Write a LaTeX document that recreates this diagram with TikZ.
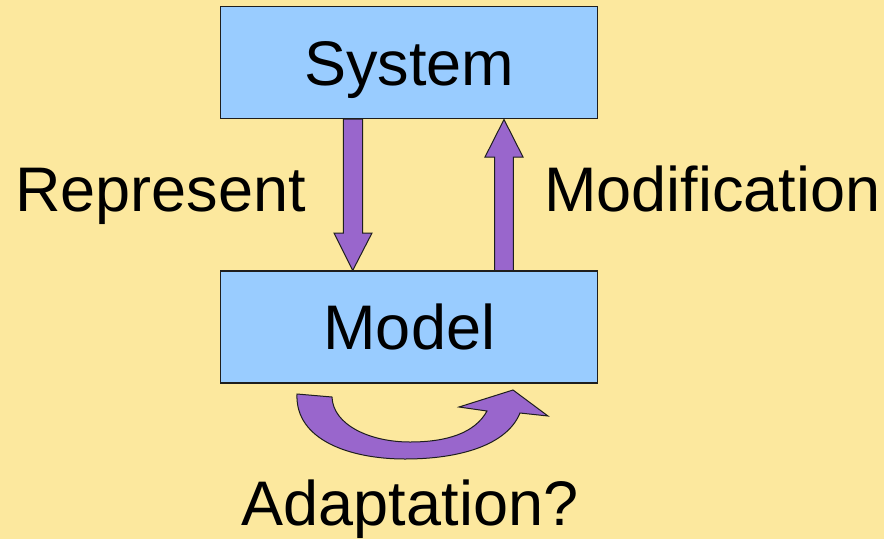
\documentclass[tikz,border=0pt]{standalone}
\usepackage{fontspec}
\setmainfont{Liberation Sans}
\definecolor{bgyellow}{RGB}{252,232,158}
\definecolor{boxblue}{RGB}{153,204,255}
\definecolor{arrowpurple}{RGB}{153,102,204}
\definecolor{edge}{RGB}{30,30,30}
\begin{document}
\begin{tikzpicture}[x=1pt,y=-1pt,
  box/.style={draw=edge,line width=1.3pt,fill=boxblue,minimum width=377pt,minimum height=112pt,
    inner sep=0pt,text height=45pt,text depth=0pt,font=\fontsize{63}{70}\selectfont},
  blockarrow/.style={draw=edge,line width=1pt,fill=arrowpurple,line join=miter},
  lbl/.style={anchor=base west,inner sep=0pt,font=\fontsize{63}{70}\selectfont}]
\fill[bgyellow] (0,0) rectangle (884,539);
\useasboundingbox (0,0) rectangle (884,539);
\node[box] (sys) at (409.3,62.5) {System};
\node[box] (mod) at (409.3,327) {Model};
% Represent arrow (down)
\draw[blockarrow] (343.3,119) -- (362.7,119) -- (362.7,233) -- (372,233) -- (352.7,270.5)
  -- (334,233) -- (343.3,233) -- cycle;
% Modification arrow (up)
\draw[blockarrow] (494.7,270.5) -- (494.7,157) -- (485,157) -- (504,119.5) -- (523,157)
  -- (513.3,157) -- (513.3,270.5) -- cycle;
% Adaptation curved arrow
\draw[blockarrow] (297,394) .. controls (295,440) and (350,459) .. (405,459)
  .. controls (460,459) and (507,445) .. (520,413) -- (548,416) -- (513,390) -- (459,407)
  -- (487,411) .. controls (475,433) and (447,442) .. (410,442)
  .. controls (370,442) and (333,425) .. (332,397) -- cycle;
\node[lbl] (rep) at (15,211.7) {Represent};
\node[lbl] (modif) at (544,211.7) {Modification};
\node[lbl,anchor=base] (adapt) at (410,525) {Adaptation?};
\end{tikzpicture}
\end{document}
